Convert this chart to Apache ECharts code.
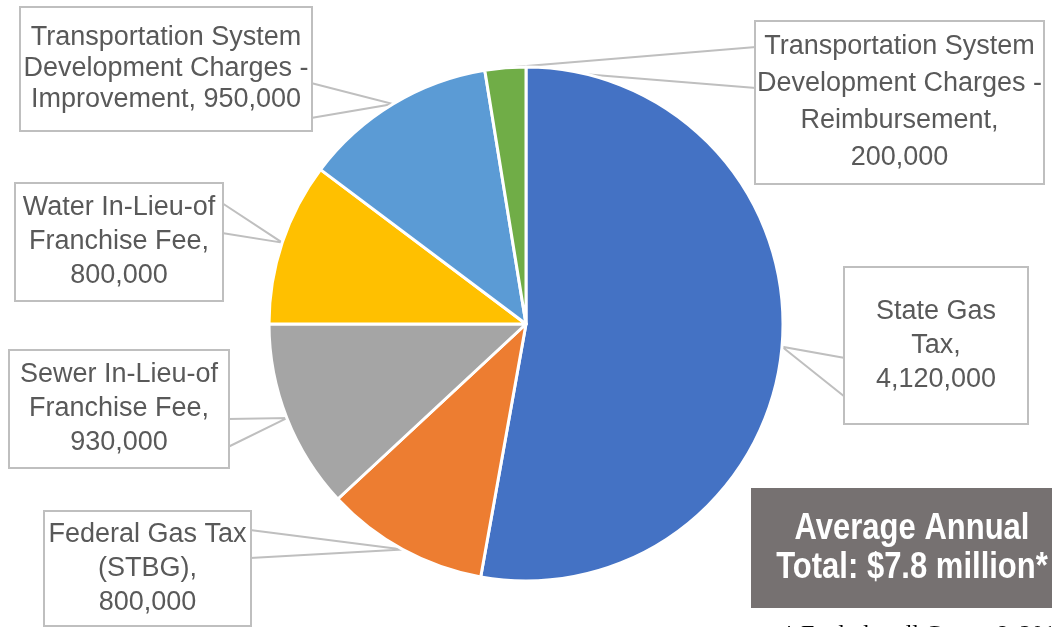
<!DOCTYPE html>
<html><head><meta charset="utf-8">
<script src="https://cdn.jsdelivr.net/npm/echarts@6/dist/echarts.min.js"></script>
<style>html,body{margin:0;padding:0;background:#fff}#c{width:1052px;height:627px}</style>
</head><body><div id="c"></div>
<script>
// ---- data ----
const categories = [
  'State Gas Tax',
  'Federal Gas Tax (STBG)',
  'Sewer In-Lieu-of Franchise Fee',
  'Water In-Lieu-of Franchise Fee',
  'Transportation System Development Charges - Improvement',
  'Transportation System Development Charges - Reimbursement'
];
const values = [4120000, 800000, 930000, 800000, 950000, 200000];
const labelTexts = [
  'State Gas\nTax,\n{v}',
  'Federal Gas Tax\n(STBG),\n{v}',
  'Sewer In-Lieu-of\nFranchise Fee,\n{v}',
  'Water In-Lieu-of\nFranchise Fee,\n{v}',
  'Transportation System\nDevelopment Charges -\nImprovement, {v}',
  'Transportation System\nDevelopment Charges -\nReimbursement,\n{v}'
];
const colors = ['#4472C4', '#ED7D31', '#A5A5A5', '#FFC000', '#5B9BD5', '#70AD47'];
const totalLines = ['Average Annual', 'Total: $7.8 million*'];
const footnote = '* Excludes all Grants & 2019';

// ---- layout (positions / sizes only) ----
const CX = 526, CY = 324, R = 257;
const boxes = [
  {x: 845, y: 268, w: 182, h: 155, lh: 34, side: 'left',  b: [358, 397]},
  {x: 45,  y: 512, w: 205, h: 113, lh: 34, side: 'right', b: [530, 558]},
  {x: 10,  y: 351, w: 218, h: 116, lh: 34, side: 'right', b: [419, 447]},
  {x: 16,  y: 184, w: 206, h: 116, lh: 34, side: 'right', b: [203, 233]},
  {x: 21,  y: 8,   w: 290, h: 122, lh: 31, side: 'right', b: [83, 118]},
  {x: 756, y: 22,  w: 287, h: 161, lh: 37, side: 'left',  b: [47, 88]}
];
const LABEL_FONT = "'Liberation Sans', Arial, sans-serif";

const fmt = v => v.toLocaleString('en-US');
const total = values.reduce((a, b) => a + b, 0);

const data = categories.map((name, i) => {
  const b = boxes[i];
  const n = labelTexts[i].split('\n').length;
  const pad = Math.max(0, (b.h - n * b.lh) / 2);
  return {
    name, value: values[i],
    itemStyle: {color: colors[i]},
    label: {width: b.w, lineHeight: b.lh, padding: [pad, 0, pad, 0]}
  };
});

const chart = echarts.init(document.getElementById('c'), null, {renderer: 'canvas'});
chart.setOption({
  backgroundColor: '#fff',
  animation: false,
  series: [{
    type: 'pie',
    center: [CX, CY],
    radius: R,
    startAngle: 90,
    clockwise: true,
    avoidLabelOverlap: false,
    data: data,
    itemStyle: {borderColor: '#fff', borderWidth: 3},
    label: {
      show: true,
      position: 'outside',
      alignTo: 'none',
      overflow: 'none',
      color: '#595959',
      fontSize: 27,
      fontFamily: LABEL_FONT,
      align: 'center',
      backgroundColor: '#fff',
      borderColor: '#BFBFBF',
      borderWidth: 2,
      formatter: p => labelTexts[p.dataIndex].replace('{v}', fmt(p.value))
    },
    labelLine: {show: true, length: 8, length2: 8, smooth: false,
      lineStyle: {color: '#BFBFBF', width: 2}},
    emphasis: {disabled: true},
    labelLayout: function (params) {
      const i = params.dataIndex;
      const b = boxes[i];
      let tip = params.labelLinePoints && params.labelLinePoints[0];
      if (!tip) {
        let cum = 0;
        for (let k = 0; k < i; k++) cum += values[k];
        const a = (cum + values[i] / 2) / total * 2 * Math.PI;
        tip = [CX + R * Math.sin(a), CY - R * Math.cos(a)];
      }
      const bx = b.side === 'left' ? b.x : b.x + b.w;
      return {
        x: b.x + b.w / 2, y: b.y, align: 'center', verticalAlign: 'top',
        labelLinePoints: [[bx, b.b[0]], [tip[0], tip[1]], [bx, b.b[1]]]
      };
    }
  }],
  graphic: [
    {type: 'rect', shape: {x: 751, y: 488, width: 320, height: 120}, style: {fill: '#767171'}},
    {type: 'text', x: 912, y: 548, scaleY: 1.2, style: {
      text: totalLines.join('\n'), fill: '#fff', fontSize: 31, fontWeight: 'bold',
      fontFamily: LABEL_FONT, align: 'center', verticalAlign: 'middle', lineHeight: 32.5}},
    {type: 'text', x: 783, y: 623, style: {
      text: footnote, fill: '#000', fontSize: 24, fontFamily: "'Liberation Serif', serif",
      align: 'left', verticalAlign: 'top'}}
  ]
});
</script></body></html>
